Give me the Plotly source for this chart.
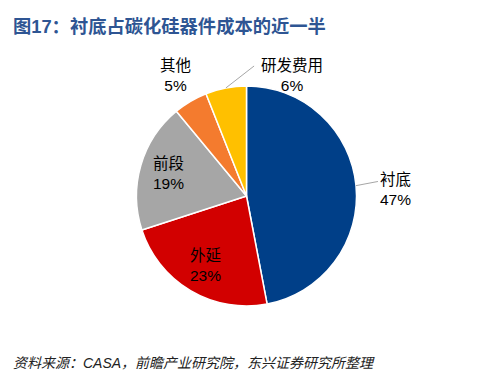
import math
import plotly.graph_objects as go

categories = ["衬底", "外延", "前段", "其他", "研发费用"]
values = [47, 23, 19, 5, 6]
colors = ["#003F88", "#D20000", "#A6A6A6", "#F47B2E", "#FFC000"]
title_text = "图17：衬底占碳化硅器件成本的近一半"
source_text = "资料来源：CASA，前瞻产业研究院，东兴证券研究所整理"

W, H = 482, 381
cx, cy, R = 246.5, 196.0, 110.0  # pie centre / radius in px (layout)

# label placement: radius factor and optional angle override (deg, clockwise from top)
label_r = [1.36, 0.73, 0.74, 1.27, 1.167]
label_ang = [87.5, None, None, None, 20.8]
leader = [True, False, False, False, True]

fig = go.Figure()
fig.add_trace(go.Pie(
    labels=categories, values=values, sort=False, direction="clockwise",
    rotation=0, textinfo="none", hoverinfo="label+percent",
    marker=dict(colors=colors, line=dict(color="white", width=1.5)),
    domain=dict(x=[(cx - R) / W, (cx + R) / W], y=[1 - (cy + R) / H, 1 - (cy - R) / H]),
    showlegend=False,
))

def to_paper(px, py):
    return px / W, 1 - py / H

total = sum(values)
cum = 0
annotations = []
shapes = []
for i, (cat, v) in enumerate(zip(categories, values)):
    mid = (cum + v / 2) / total * 360
    cum += v
    pct = round(v / total * 100)
    ang = label_ang[i] if label_ang[i] is not None else mid
    lx = cx + R * label_r[i] * math.sin(math.radians(ang))
    ly = cy - R * label_r[i] * math.cos(math.radians(ang))
    x, y = to_paper(lx, ly)
    annotations.append(dict(
        x=x, y=y, xref="paper", yref="paper", showarrow=False,
        text=f"{cat}<br>{pct}%", xanchor="center", yanchor="middle",
        font=dict(size=15.5, color="#000000", family="Liberation Sans, Arial, Noto Sans CJK SC"),
    ))
    if leader[i]:
        sx = cx + R * math.sin(math.radians(mid))
        sy = cy - R * math.cos(math.radians(mid))
        if i == 0:
            ex, ey = lx - 18, ly - 8
        else:
            ex, ey = lx - 38, ly - 10
        x0, y0 = to_paper(sx, sy)
        x1, y1 = to_paper(ex, ey)
        shapes.append(dict(type="line", xref="paper", yref="paper",
                           x0=x0, y0=y0, x1=x1, y1=y1,
                           line=dict(color="#A6A6A6", width=1)))

annotations.append(dict(
    x=11 / W, y=1 - 27 / H, xref="paper", yref="paper", showarrow=False,
    text=f"<b>{title_text}</b>", xanchor="left", yanchor="middle",
    font=dict(size=18.3, color="#2E5593", family="Liberation Sans, Arial, Noto Sans CJK SC"),
))
annotations.append(dict(
    x=11 / W, y=1 - 363 / H, xref="paper", yref="paper", showarrow=False,
    text=f"<i>{source_text}</i>", xanchor="left", yanchor="middle",
    font=dict(size=14, color="#222222", family="Liberation Sans, Arial, Noto Sans CJK SC"),
))

fig.update_layout(
    width=W, height=H, margin=dict(l=0, r=0, t=0, b=0),
    paper_bgcolor="white", plot_bgcolor="white",
    annotations=annotations, shapes=shapes,
)
fig.write_html("out.html", config={"displayModeBar": False},
               post_script="document.body.style.margin='0';")
